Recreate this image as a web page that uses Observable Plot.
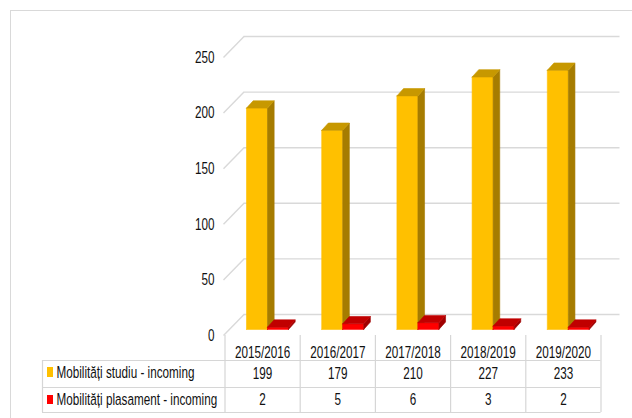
<!DOCTYPE html>
<html><head><meta charset="utf-8">
<script src="https://cdn.jsdelivr.net/npm/d3@7"></script>
<script src="https://cdn.jsdelivr.net/npm/@observablehq/plot@0.6"></script>
<style>
body{margin:0;background:#fff;}
#wrap{position:relative;width:632px;height:418px;overflow:hidden;background:#fff;}
#frame{position:absolute;left:10px;top:10px;width:700px;height:500px;border:1.5px solid #d9d9d9;box-sizing:border-box;}
#chart{position:absolute;left:0;top:0;}
</style></head><body>
<div id="wrap"><div id="frame"></div><div id="chart"></div></div>
<script>
// ---- data ----
const years = ["2015/2016","2016/2017","2017/2018","2018/2019","2019/2020"];
const studiu = [199,179,210,227,233];
const plasament = [2,5,6,3,2];
const seriesNames = ["Mobilități studiu - incoming","Mobilități plasament - incoming"];
const yTicks = [0,50,100,150,200,250];

// ---- layout helpers ----
const W = 632, H = 418;
const mL = 224.5, mR = 31.5, mT = 57, mB = 83;
const colPx = (W - mL - mR) / years.length;
const valPerPx = 250 / (H - mT - mB);
const px2x = p => (p - mL) / colPx;            // pixel x -> column units
const py = p => (H - mB - p) * valPerPx;        // pixel y -> value units
const DX = 19 / colPx, DY = 21 * valPerPx;      // full depth of the 3D floor
const fFront = 0.29, fBack = 0.64;              // bar depth within floor
const barW = 21 / colPx, barOff = 16 / colPx;

const series = [
  {values: studiu, off: barOff, front: "#ffc000", side: "#a67c00", top: "#c79800"},
  {values: plasament, off: barOff + barW, front: "#ff0000", side: "#a00000", top: "#c00000"}
];

function facePolys(s, kind) {
  const pts = [];
  s.values.forEach((v, i) => {
    const xb = i + s.off;
    const P = (x, t, yy) => ({x: x + t * DX, y: yy + t * DY});
    let poly;
    if (kind === "front") poly = [P(xb, fFront, 0), P(xb + barW, fFront, 0), P(xb + barW, fFront, v), P(xb, fFront, v)];
    else if (kind === "side") poly = [P(xb + barW, fFront, 0), P(xb + barW, fBack, 0), P(xb + barW, fBack, v), P(xb + barW, fFront, v)];
    else poly = [P(xb, fFront, v), P(xb + barW, fFront, v), P(xb + barW, fBack, v), P(xb, fBack, v)];
    poly.push(poly[0]);
    poly.forEach(p => pts.push({...p, id: i}));
  });
  return pts;
}

const marks = [];
// back wall gridlines and left-wall diagonals
marks.push(Plot.ruleY(yTicks, {y: d => d + DY, x1: () => DX, x2: () => years.length + DX, stroke: "#d9d9d9", strokeWidth: 1.4}));
marks.push(Plot.link(yTicks, {x1: () => -0.02, y1: d => d, x2: () => DX, y2: d => d + DY, stroke: "#d9d9d9", strokeWidth: 1.4}));

// bars
for (const s of series) {
  for (const kind of ["front", "side", "top"]) {
    marks.push(Plot.line(facePolys(s, kind), {x: "x", y: "y", z: "id", fill: s[kind], stroke: s[kind], strokeWidth: 0.6, curve: "linear"}));
  }
}

// y axis
marks.push(Plot.axisY(yTicks, {tickSize: 0, tickPadding: 10.5, label: null}));

// data table lines
const gridC = "#d6d6d6";
marks.push(Plot.ruleY([py(360), py(387), py(412)], {y: d => d, x1: () => px2x(42), x2: () => years.length, stroke: gridC, strokeWidth: 1.2}));
marks.push(Plot.ruleX(d3.range(years.length + 1), {x: d => d, y1: () => py(335), y2: () => py(412), stroke: gridC, strokeWidth: 1.2}));
marks.push(Plot.ruleX([px2x(42)], {x: d => d, y1: () => py(360), y2: () => py(412), stroke: gridC, strokeWidth: 1.2}));

// table text
marks.push(Plot.text(years, {x: (d, i) => i + 0.5, y: () => py(352), text: d => d}));
marks.push(Plot.text(studiu, {x: (d, i) => i + 0.5, y: () => py(373.5), text: d => String(d)}));
marks.push(Plot.text(plasament, {x: (d, i) => i + 0.5, y: () => py(399.5), text: d => String(d)}));

// legend keys + names
marks.push(Plot.rect(seriesNames, {x1: () => px2x(47), x2: () => px2x(53), y1: (d, i) => py(i ? 404 : 377), y2: (d, i) => py(i ? 395 : 367), fill: (d, i) => i ? "#ff0000" : "#ffc000"}));
marks.push(Plot.text(seriesNames, {x: () => px2x(56), y: (d, i) => py(i ? 399.5 : 372.5), text: d => d, textAnchor: "start"}));

const svg = Plot.plot({
  width: W, height: H,
  marginLeft: mL, marginRight: mR, marginTop: mT, marginBottom: mB,
  x: {domain: [0, years.length], axis: null},
  y: {domain: [0, 250]},
  color: {type: "identity"},
  clip: false,
  style: {fontSize: "16.5px", fontFamily: "'Liberation Sans', Arial, sans-serif", color: "#111", background: "transparent", overflow: "visible"},
  marks
});

// horizontally condensed text like the reference
const S = 0.71;
d3.select(svg).selectAll("text").each(function() {
  const t = this.getAttribute("transform");
  if (t && t.includes("translate")) this.setAttribute("transform", t + ` scale(${S},1)`);
  else {
    const x = +this.getAttribute("x") || 0;
    this.setAttribute("transform", `translate(${x},0) scale(${S},1) translate(${-x},0)`);
  }
});
document.getElementById("chart").appendChild(svg);
</script>
</body></html>
